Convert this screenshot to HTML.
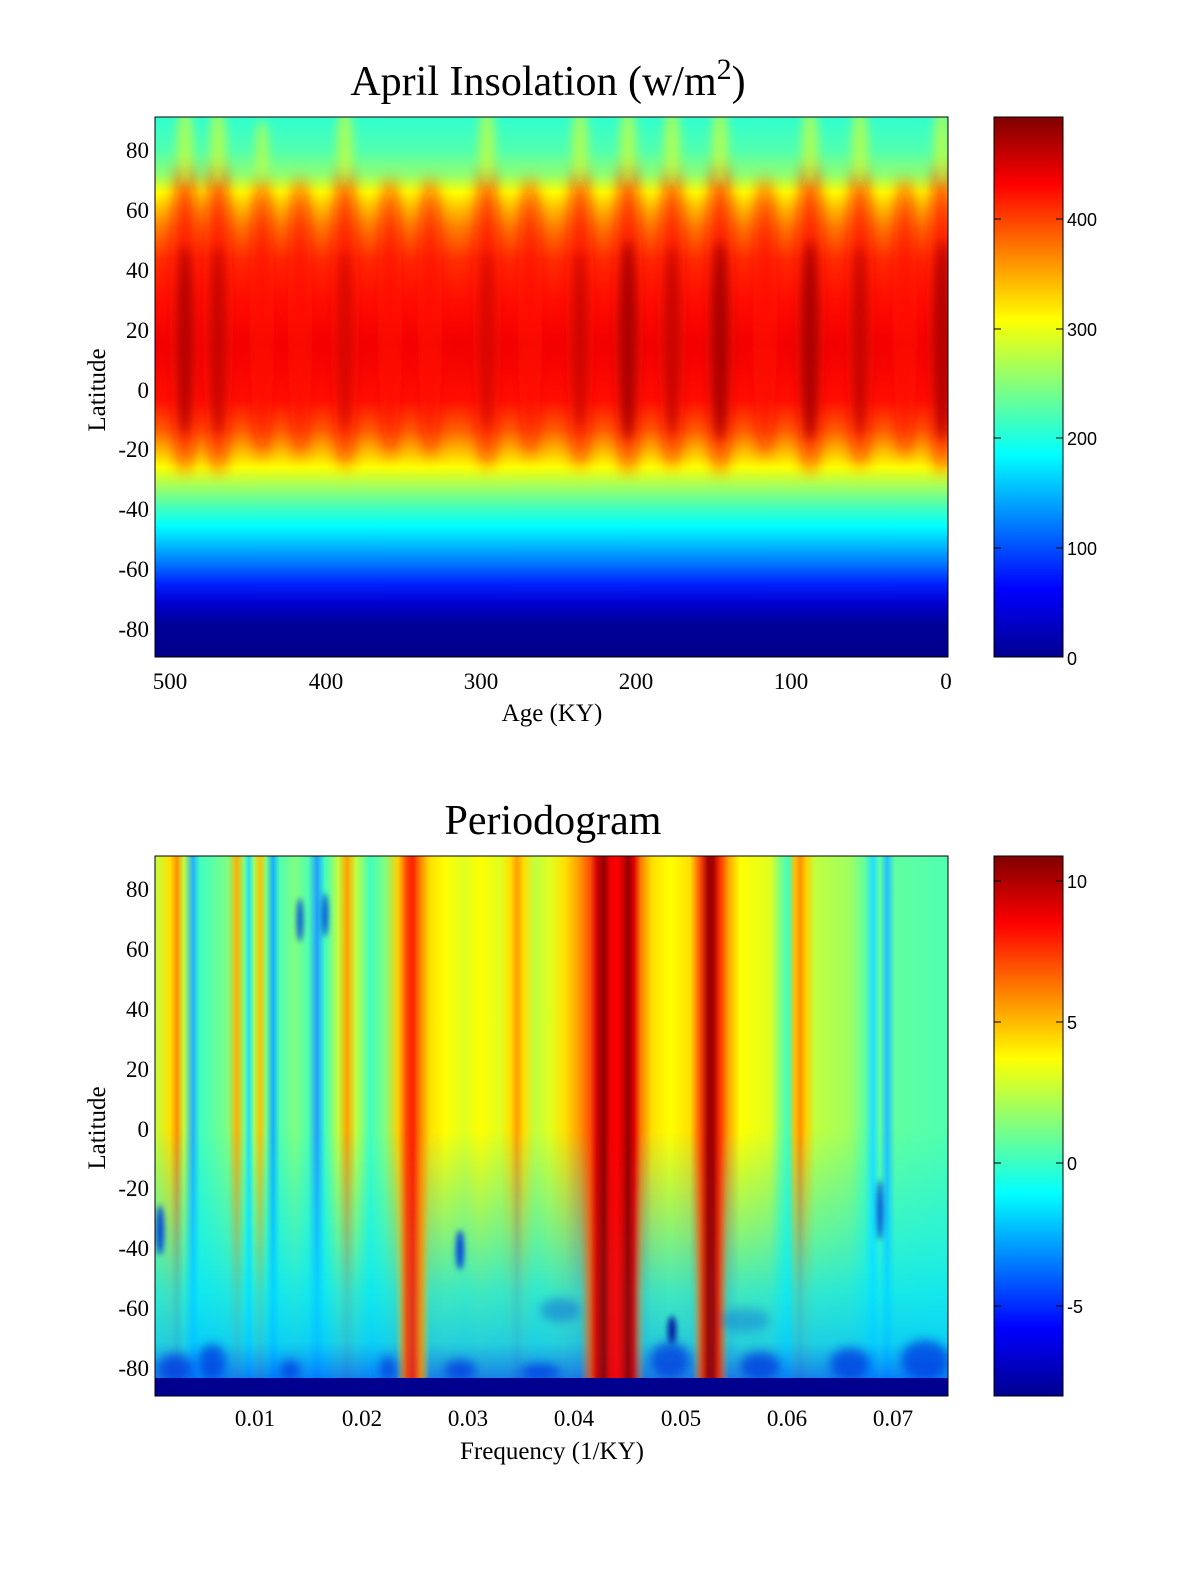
<!DOCTYPE html>
<html><head><meta charset="utf-8"><style>html,body{margin:0;padding:0;background:#fff}svg{display:block}</style></head><body>
<svg width="1200" height="1575" viewBox="0 0 1200 1575" xmlns="http://www.w3.org/2000/svg">
<defs>
<linearGradient id="topbase" gradientUnits="userSpaceOnUse" x1="0" y1="117" x2="0" y2="657">
<stop offset="0" stop-color="#30ffd0"/><stop offset="0.061" stop-color="#50ffb0"/><stop offset="0.107" stop-color="#90ff70"/><stop offset="0.14" stop-color="#ffff00"/><stop offset="0.17" stop-color="#ffc000"/><stop offset="0.205" stop-color="#ff8000"/><stop offset="0.265" stop-color="#ff3000"/><stop offset="0.339" stop-color="#ff1000"/><stop offset="0.422" stop-color="#f00000"/><stop offset="0.524" stop-color="#ff1000"/><stop offset="0.58" stop-color="#ff6000"/><stop offset="0.62" stop-color="#ffc000"/><stop offset="0.648" stop-color="#ffff00"/><stop offset="0.685" stop-color="#a0ff60"/><stop offset="0.725" stop-color="#40ffc0"/><stop offset="0.757" stop-color="#00ffff"/><stop offset="0.79" stop-color="#00c0ff"/><stop offset="0.83" stop-color="#0070ff"/><stop offset="0.865" stop-color="#0020ff"/><stop offset="0.9" stop-color="#0000d0"/><stop offset="0.94" stop-color="#000098"/><stop offset="1" stop-color="#00008a"/>
</linearGradient>
<linearGradient id="jet" x1="0" y1="1" x2="0" y2="0">
<stop offset="0" stop-color="#00008f"/><stop offset="0.125" stop-color="#0000ff"/><stop offset="0.375" stop-color="#00ffff"/><stop offset="0.625" stop-color="#ffff00"/><stop offset="0.875" stop-color="#ff0000"/><stop offset="1" stop-color="#800000"/>
</linearGradient>
<linearGradient id="botbase" gradientUnits="userSpaceOnUse" x1="0" y1="0" x2="1200" y2="0">
<stop offset="0.1292" stop-color="#c0ff40"/><stop offset="0.1417" stop-color="#ffe000"/><stop offset="0.1475" stop-color="#ff9000"/><stop offset="0.1533" stop-color="#c0ff40"/><stop offset="0.1608" stop-color="#20b0ff"/><stop offset="0.1667" stop-color="#40ffc0"/><stop offset="0.1792" stop-color="#60ffa0"/><stop offset="0.19" stop-color="#80ff80"/><stop offset="0.1975" stop-color="#ffb000"/><stop offset="0.2033" stop-color="#80ff80"/><stop offset="0.2075" stop-color="#20e0ff"/><stop offset="0.2117" stop-color="#a0ff60"/><stop offset="0.2167" stop-color="#ffc000"/><stop offset="0.2217" stop-color="#80ff80"/><stop offset="0.2275" stop-color="#10b0ff"/><stop offset="0.2333" stop-color="#50ffb0"/><stop offset="0.2458" stop-color="#80ff80"/><stop offset="0.2567" stop-color="#50ffb0"/><stop offset="0.2642" stop-color="#20a0ff"/><stop offset="0.2708" stop-color="#40ffc0"/><stop offset="0.2817" stop-color="#c0ff40"/><stop offset="0.2892" stop-color="#ffa000"/><stop offset="0.2967" stop-color="#c0ff40"/><stop offset="0.3083" stop-color="#40ffc0"/><stop offset="0.3208" stop-color="#80ff80"/><stop offset="0.3317" stop-color="#ffd000"/><stop offset="0.3392" stop-color="#ff4000"/><stop offset="0.3442" stop-color="#ff2000"/><stop offset="0.35" stop-color="#ff8000"/><stop offset="0.3583" stop-color="#ffe000"/><stop offset="0.3708" stop-color="#ffff00"/><stop offset="0.3875" stop-color="#e0ff20"/><stop offset="0.4" stop-color="#ffff00"/><stop offset="0.4167" stop-color="#e0ff20"/><stop offset="0.425" stop-color="#ffe000"/><stop offset="0.4308" stop-color="#ffa000"/><stop offset="0.4367" stop-color="#ffe000"/><stop offset="0.4458" stop-color="#c0ff40"/><stop offset="0.4583" stop-color="#e0ff20"/><stop offset="0.4708" stop-color="#ffe000"/><stop offset="0.4817" stop-color="#ffa000"/><stop offset="0.4917" stop-color="#ff5000"/><stop offset="0.4975" stop-color="#d00000"/><stop offset="0.5033" stop-color="#900000"/><stop offset="0.5083" stop-color="#ee0000"/><stop offset="0.5142" stop-color="#ff0000"/><stop offset="0.5192" stop-color="#d00000"/><stop offset="0.5233" stop-color="#900000"/><stop offset="0.5283" stop-color="#e00000"/><stop offset="0.5342" stop-color="#ff8000"/><stop offset="0.5433" stop-color="#ffe000"/><stop offset="0.5583" stop-color="#ffff00"/><stop offset="0.575" stop-color="#ffe000"/><stop offset="0.5833" stop-color="#ff5000"/><stop offset="0.59" stop-color="#a00000"/><stop offset="0.5942" stop-color="#a00000"/><stop offset="0.6" stop-color="#ff3000"/><stop offset="0.6067" stop-color="#ffa000"/><stop offset="0.6167" stop-color="#ffff00"/><stop offset="0.6417" stop-color="#e0ff20"/><stop offset="0.65" stop-color="#80ff80"/><stop offset="0.6567" stop-color="#40ffc0"/><stop offset="0.6625" stop-color="#ffc000"/><stop offset="0.6667" stop-color="#ff9000"/><stop offset="0.6717" stop-color="#ffd000"/><stop offset="0.6792" stop-color="#c0ff40"/><stop offset="0.7083" stop-color="#a0ff60"/><stop offset="0.7208" stop-color="#60ffa0"/><stop offset="0.7275" stop-color="#20e0ff"/><stop offset="0.7333" stop-color="#60ffa0"/><stop offset="0.7392" stop-color="#20c0ff"/><stop offset="0.7458" stop-color="#60ffa0"/><stop offset="0.79" stop-color="#50ffb0"/>
</linearGradient>
<linearGradient id="botfade" gradientUnits="userSpaceOnUse" x1="0" y1="1130" x2="0" y2="1380">
<stop offset="0" stop-color="#00e6ff" stop-opacity="0"/><stop offset="0.4" stop-color="#00e6ff" stop-opacity="0.45"/><stop offset="0.65" stop-color="#00e0ff" stop-opacity="0.75"/><stop offset="0.85" stop-color="#00c8ff" stop-opacity="0.85"/><stop offset="1" stop-color="#0070ff" stop-opacity="0.9"/>
</linearGradient>
<linearGradient id="spare" gradientUnits="userSpaceOnUse" x1="0" y1="0" x2="1200" y2="0">
<stop offset="0.33" stop-color="#fff"/><stop offset="0.3375" stop-color="#222"/><stop offset="0.3508" stop-color="#222"/><stop offset="0.3583" stop-color="#fff"/>
<stop offset="0.4833" stop-color="#fff"/><stop offset="0.4942" stop-color="#111"/><stop offset="0.5267" stop-color="#111"/><stop offset="0.5375" stop-color="#fff"/>
<stop offset="0.5767" stop-color="#fff"/><stop offset="0.5858" stop-color="#111"/><stop offset="0.5983" stop-color="#111"/><stop offset="0.6075" stop-color="#fff"/>
</linearGradient>
<mask id="sparemask" maskUnits="userSpaceOnUse" x="0" y="0" width="1200" height="1575"><rect x="155" y="1100" width="793" height="300" fill="url(#spare)"/></mask>
<filter id="b8" x="-200%" y="-50%" width="500%" height="200%"><feGaussianBlur stdDeviation="8"/></filter>
<filter id="b5" x="-200%" y="-50%" width="500%" height="200%"><feGaussianBlur stdDeviation="5"/></filter>
<filter id="b3" x="-200%" y="-50%" width="500%" height="200%"><feGaussianBlur stdDeviation="3"/></filter>
<clipPath id="ctop"><rect x="155" y="117" width="793" height="540"/></clipPath>
<clipPath id="cbot"><rect x="155" y="856" width="793" height="540"/></clipPath>
</defs>

<!-- TOP PLOT -->
<text x="548" y="95" font-family="Liberation Serif, serif" font-size="42" text-anchor="middle">April Insolation (w/m<tspan dy="-16" font-size="30">2</tspan><tspan dy="16">)</tspan></text>
<g clip-path="url(#ctop)">
<rect x="155" y="117" width="793" height="540" fill="url(#topbase)"/>
<g fill="#ff1000" opacity="0.8">
<ellipse filter="url(#b8)" cx="185" cy="318" rx="15" ry="155"/><ellipse filter="url(#b8)" cx="218" cy="318" rx="15" ry="155"/><ellipse filter="url(#b8)" cx="262" cy="318" rx="12" ry="140"/><ellipse filter="url(#b8)" cx="300" cy="318" rx="12" ry="140"/><ellipse filter="url(#b8)" cx="345" cy="318" rx="14" ry="150"/><ellipse filter="url(#b8)" cx="390" cy="318" rx="12" ry="140"/><ellipse filter="url(#b8)" cx="430" cy="318" rx="12" ry="140"/><ellipse filter="url(#b8)" cx="487" cy="318" rx="14" ry="150"/><ellipse filter="url(#b8)" cx="530" cy="318" rx="12" ry="140"/><ellipse filter="url(#b8)" cx="580" cy="318" rx="14" ry="150"/><ellipse filter="url(#b8)" cx="628" cy="318" rx="15" ry="155"/><ellipse filter="url(#b8)" cx="672" cy="318" rx="14" ry="150"/><ellipse filter="url(#b8)" cx="720" cy="318" rx="15" ry="155"/><ellipse filter="url(#b8)" cx="765" cy="318" rx="12" ry="140"/><ellipse filter="url(#b8)" cx="810" cy="318" rx="15" ry="155"/><ellipse filter="url(#b8)" cx="860" cy="318" rx="14" ry="150"/><ellipse filter="url(#b8)" cx="905" cy="318" rx="12" ry="140"/><ellipse filter="url(#b8)" cx="942" cy="318" rx="15" ry="155"/>
</g>
<g fill="#a00000">
<ellipse filter="url(#b5)" cx="185" cy="340" rx="8" ry="95" opacity="0.8"/><ellipse filter="url(#b5)" cx="218" cy="340" rx="8" ry="95" opacity="0.6"/><ellipse filter="url(#b5)" cx="345" cy="340" rx="8" ry="90" opacity="0.4"/><ellipse filter="url(#b5)" cx="487" cy="340" rx="8" ry="90" opacity="0.4"/><ellipse filter="url(#b5)" cx="580" cy="340" rx="8" ry="90" opacity="0.5"/><ellipse filter="url(#b5)" cx="628" cy="340" rx="9" ry="100" opacity="0.9"/><ellipse filter="url(#b5)" cx="672" cy="340" rx="8" ry="95" opacity="0.6"/><ellipse filter="url(#b5)" cx="720" cy="340" rx="9" ry="100" opacity="0.9"/><ellipse filter="url(#b5)" cx="810" cy="340" rx="9" ry="100" opacity="0.9"/><ellipse filter="url(#b5)" cx="860" cy="340" rx="8" ry="95" opacity="0.6"/><ellipse filter="url(#b5)" cx="942" cy="340" rx="9" ry="100" opacity="0.8"/>
</g>
<g fill="#d0ff30" opacity="0.7">
<ellipse filter="url(#b5)" cx="185" cy="145" rx="8" ry="40"/><ellipse filter="url(#b5)" cx="218" cy="145" rx="8" ry="40"/><ellipse filter="url(#b5)" cx="262" cy="150" rx="6" ry="30"/><ellipse filter="url(#b5)" cx="345" cy="145" rx="8" ry="40"/><ellipse filter="url(#b5)" cx="487" cy="145" rx="8" ry="40"/><ellipse filter="url(#b5)" cx="580" cy="145" rx="8" ry="40"/><ellipse filter="url(#b5)" cx="628" cy="145" rx="8" ry="40"/><ellipse filter="url(#b5)" cx="672" cy="145" rx="8" ry="40"/><ellipse filter="url(#b5)" cx="720" cy="145" rx="8" ry="40"/><ellipse filter="url(#b5)" cx="810" cy="145" rx="8" ry="40"/><ellipse filter="url(#b5)" cx="860" cy="145" rx="8" ry="40"/><ellipse filter="url(#b5)" cx="942" cy="145" rx="8" ry="40"/>
</g>
</g>
<rect x="155" y="117" width="793" height="540" fill="none" stroke="#000" stroke-width="1"/>
<g font-family="Liberation Serif, serif" font-size="23" text-anchor="end">
<text x="149" y="158">80</text><text x="149" y="218">60</text><text x="149" y="278">40</text><text x="149" y="338">20</text><text x="149" y="398">0</text><text x="149" y="457">-20</text><text x="149" y="517">-40</text><text x="149" y="577">-60</text><text x="149" y="637">-80</text>
</g>
<g font-family="Liberation Serif, serif" font-size="23" text-anchor="middle">
<text x="170" y="689">500</text><text x="326" y="689">400</text><text x="481" y="689">300</text><text x="636" y="689">200</text><text x="791" y="689">100</text><text x="946" y="689">0</text>
<text x="552" y="721" font-size="25">Age (KY)</text>
</g>
<text transform="translate(105,390) rotate(-90)" font-family="Liberation Serif, serif" font-size="25" text-anchor="middle">Latitude</text>
<rect x="994" y="117" width="69" height="540" fill="url(#jet)" stroke="#000" stroke-width="1"/>
<g stroke="#000" stroke-width="1">
<line x1="1056" y1="219" x2="1063" y2="219"/><line x1="1056" y1="329" x2="1063" y2="329"/><line x1="1056" y1="438" x2="1063" y2="438"/><line x1="1056" y1="548" x2="1063" y2="548"/>
<line x1="994" y1="219" x2="1001" y2="219"/><line x1="994" y1="329" x2="1001" y2="329"/><line x1="994" y1="438" x2="1001" y2="438"/><line x1="994" y1="548" x2="1001" y2="548"/>
</g>
<g font-family="Liberation Sans, sans-serif" font-size="18">
<text x="1067" y="226">400</text><text x="1067" y="336">300</text><text x="1067" y="445">200</text><text x="1067" y="555">100</text><text x="1067" y="665">0</text>
</g>

<!-- BOTTOM PLOT -->
<text x="553" y="834" font-family="Liberation Serif, serif" font-size="42" text-anchor="middle">Periodogram</text>
<g clip-path="url(#cbot)">
<rect x="155" y="856" width="793" height="540" fill="url(#botbase)"/>
<rect x="155" y="1130" width="793" height="250" fill="url(#botfade)" mask="url(#sparemask)"/>
<g fill="#0030e0" opacity="0.7">
<ellipse filter="url(#b5)" cx="175" cy="1368" rx="18" ry="14"/><ellipse filter="url(#b5)" cx="212" cy="1362" rx="14" ry="18"/><ellipse filter="url(#b5)" cx="290" cy="1370" rx="10" ry="10"/><ellipse filter="url(#b5)" cx="388" cy="1368" rx="8" ry="12"/><ellipse filter="url(#b5)" cx="460" cy="1370" rx="16" ry="10"/><ellipse filter="url(#b5)" cx="540" cy="1372" rx="20" ry="8"/><ellipse filter="url(#b5)" cx="670" cy="1360" rx="20" ry="18"/><ellipse filter="url(#b5)" cx="760" cy="1366" rx="20" ry="14"/><ellipse filter="url(#b5)" cx="850" cy="1364" rx="20" ry="16"/><ellipse filter="url(#b5)" cx="925" cy="1360" rx="24" ry="20"/><ellipse filter="url(#b5)" cx="560" cy="1310" rx="20" ry="12" opacity="0.5"/><ellipse filter="url(#b5)" cx="745" cy="1320" rx="25" ry="12" opacity="0.4"/>
</g>
<ellipse filter="url(#b3)" cx="460" cy="1250" rx="4" ry="20" fill="#0040e0"/>
<ellipse filter="url(#b3)" cx="880" cy="1210" rx="3" ry="30" fill="#0040e0"/>
<ellipse filter="url(#b3)" cx="672" cy="1330" rx="4" ry="14" fill="#0010a0"/>
<ellipse filter="url(#b3)" cx="160" cy="1230" rx="4" ry="25" fill="#0040e0"/>
<ellipse filter="url(#b3)" cx="300" cy="920" rx="3" ry="22" fill="#0040e0"/>
<ellipse filter="url(#b3)" cx="325" cy="915" rx="3" ry="22" fill="#0040e0"/>
<rect x="155" y="1378" width="793" height="18" fill="#00008f"/>
</g>
<rect x="155" y="856" width="793" height="540" fill="none" stroke="#000" stroke-width="1"/>
<g font-family="Liberation Serif, serif" font-size="23" text-anchor="end">
<text x="149" y="897">80</text><text x="149" y="957">60</text><text x="149" y="1017">40</text><text x="149" y="1077">20</text><text x="149" y="1137">0</text><text x="149" y="1196">-20</text><text x="149" y="1256">-40</text><text x="149" y="1316">-60</text><text x="149" y="1376">-80</text>
</g>
<g font-family="Liberation Serif, serif" font-size="23" text-anchor="middle">
<text x="255" y="1426">0.01</text><text x="362" y="1426">0.02</text><text x="468" y="1426">0.03</text><text x="574" y="1426">0.04</text><text x="681" y="1426">0.05</text><text x="787" y="1426">0.06</text><text x="893" y="1426">0.07</text>
<text x="552" y="1459" font-size="25">Frequency (1/KY)</text>
</g>
<text transform="translate(105,1128) rotate(-90)" font-family="Liberation Serif, serif" font-size="25" text-anchor="middle">Latitude</text>
<rect x="994" y="856" width="69" height="540" fill="url(#jet)" stroke="#000" stroke-width="1"/>
<g stroke="#000" stroke-width="1">
<line x1="1056" y1="881" x2="1063" y2="881"/><line x1="1056" y1="1022" x2="1063" y2="1022"/><line x1="1056" y1="1163" x2="1063" y2="1163"/><line x1="1056" y1="1306" x2="1063" y2="1306"/>
<line x1="994" y1="881" x2="1001" y2="881"/><line x1="994" y1="1022" x2="1001" y2="1022"/><line x1="994" y1="1163" x2="1001" y2="1163"/><line x1="994" y1="1306" x2="1001" y2="1306"/>
</g>
<g font-family="Liberation Sans, sans-serif" font-size="18">
<text x="1067" y="888">10</text><text x="1067" y="1029">5</text><text x="1067" y="1170">0</text><text x="1067" y="1313">-5</text>
</g>
</svg>
</body></html>
